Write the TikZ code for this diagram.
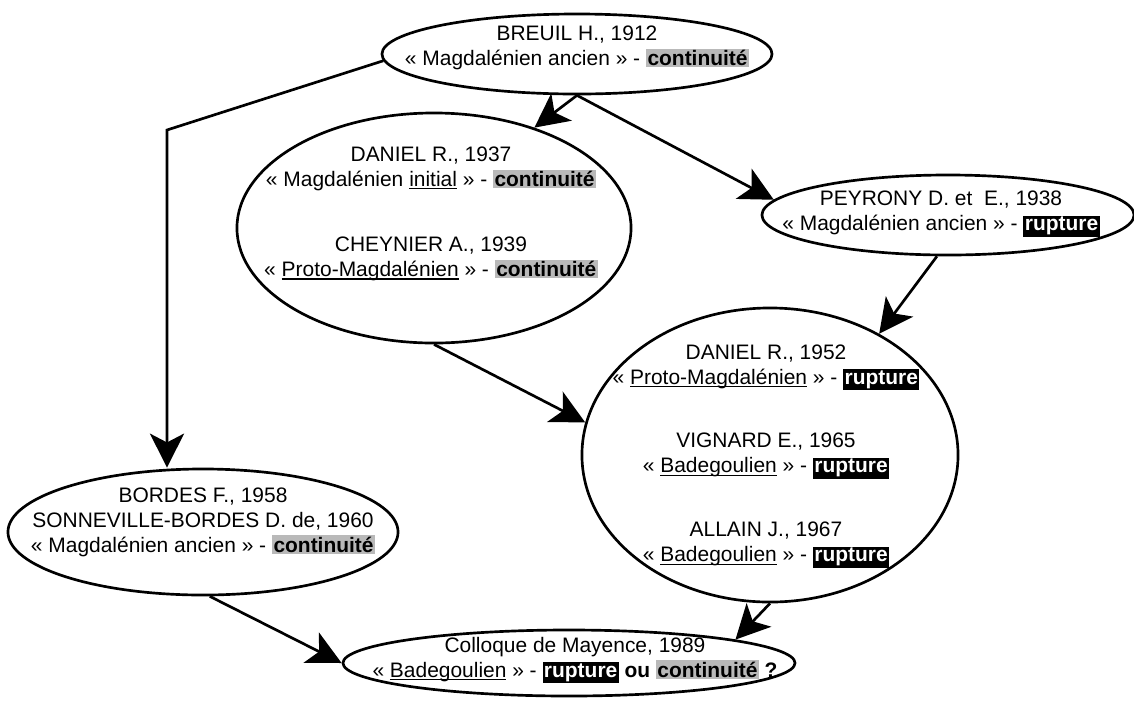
\documentclass[tikz,border=0pt]{standalone}
\usepackage{fontspec}
\setmainfont{Liberation Sans}
\usetikzlibrary{shapes.geometric,arrows.meta}

\newcommand{\cont}{{\setlength{\fboxsep}{1pt}\colorbox{gray!55}{\textbf{continuité}}}}
\newcommand{\rupt}{{\setlength{\fboxsep}{1pt}\colorbox{black}{\textcolor{white}{\textbf{rupture}}}}}
\newcommand{\ulin}[1]{\leavevmode\setbox0\hbox{#1}\rlap{\rule[-2pt]{\wd0}{0.8pt}}\box0\relax}

\begin{document}
\begin{tikzpicture}[x=0.025cm,y=-0.025cm,
    oval/.style={draw,ellipse,line width=1.9pt,inner sep=0pt},
    txt/.style={align=center,font=\fontsize{14.9}{17.8}\selectfont},
    arr/.style={line width=1.9pt,-{Stealth[length=0.85cm,width=0.85cm,inset=0.22cm]}}]
    \useasboundingbox (0,0) rectangle (1134,700);
    %% Ellipses
    \node[oval,minimum width=9.75cm,minimum height=2cm] (breuil) at (577,54) {};
    \node[oval,minimum width=9.85cm,minimum height=5.75cm] (daniel) at (434,228) {};
    \node[oval,minimum width=9.3cm,minimum height=2cm] (peyrony) at (948,215) {};
    \node[oval,minimum width=9.4cm,minimum height=7.35cm] (rupt) at (770,455) {};
    \node[oval,minimum width=9.75cm,minimum height=3.15cm] (bordes) at (203,532) {};
    \node[oval,minimum width=11.3cm,minimum height=1.65cm] (mayence) at (569,663) {};
    %% Texts
    \node[txt] (breuil-t) at (577,48) {BREUIL H., 1912\\« Magdalénien ancien » - \cont};
    \node[txt] (daniel-t) at (431,214) {DANIEL R., 1937\\« Magdalénien \ulin{initial} » - \cont\\[1cm]
        CHEYNIER A., 1939\\« \ulin{Proto-Magdalénien} » - \cont};
    \node[txt] (peyrony-t) at (941,214) {PEYRONY D. et\ \ E., 1938\\« Magdalénien ancien » - \rupt};
    \node[txt] (rupt-t) at (766,456) {DANIEL R., 1952\\« \ulin{Proto-Magdalénien} » - \rupt\\[0.97cm]
        VIGNARD E., 1965\\« \ulin{Badegoulien} » - \rupt\\[0.97cm]
        ALLAIN J., 1967\\« \ulin{Badegoulien} » - \rupt};
    \node[txt] (bordes-t) at (203,522) {BORDES F., 1958\\SONNEVILLE-BORDES D. de, 1960\\« Magdalénien ancien » - \cont};
    \node[txt] (mayence-t) at (575,660) {Colloque de Mayence, 1989\\« \ulin{Badegoulien} » - \rupt{} \textbf{ou} \cont{} \textbf{?}};
    %% Arrows
    \coordinate (bend) at (167,130);
    \draw[arr] (breuil.182) -- (bend) -- (bend |- bordes.north);
    \draw[arr] (breuil.south) -- (daniel.45);
    \draw[arr] (breuil.south) -- (peyrony.175);
    \draw[arr] (daniel.south) -- (rupt.170);
    \draw[arr] (peyrony.255) -- (rupt.48);
    \draw[arr] (rupt.south) -- (mayence.8);
    \draw[arr] (bordes.-84) -- (mayence.west);
\end{tikzpicture}
\end{document}
